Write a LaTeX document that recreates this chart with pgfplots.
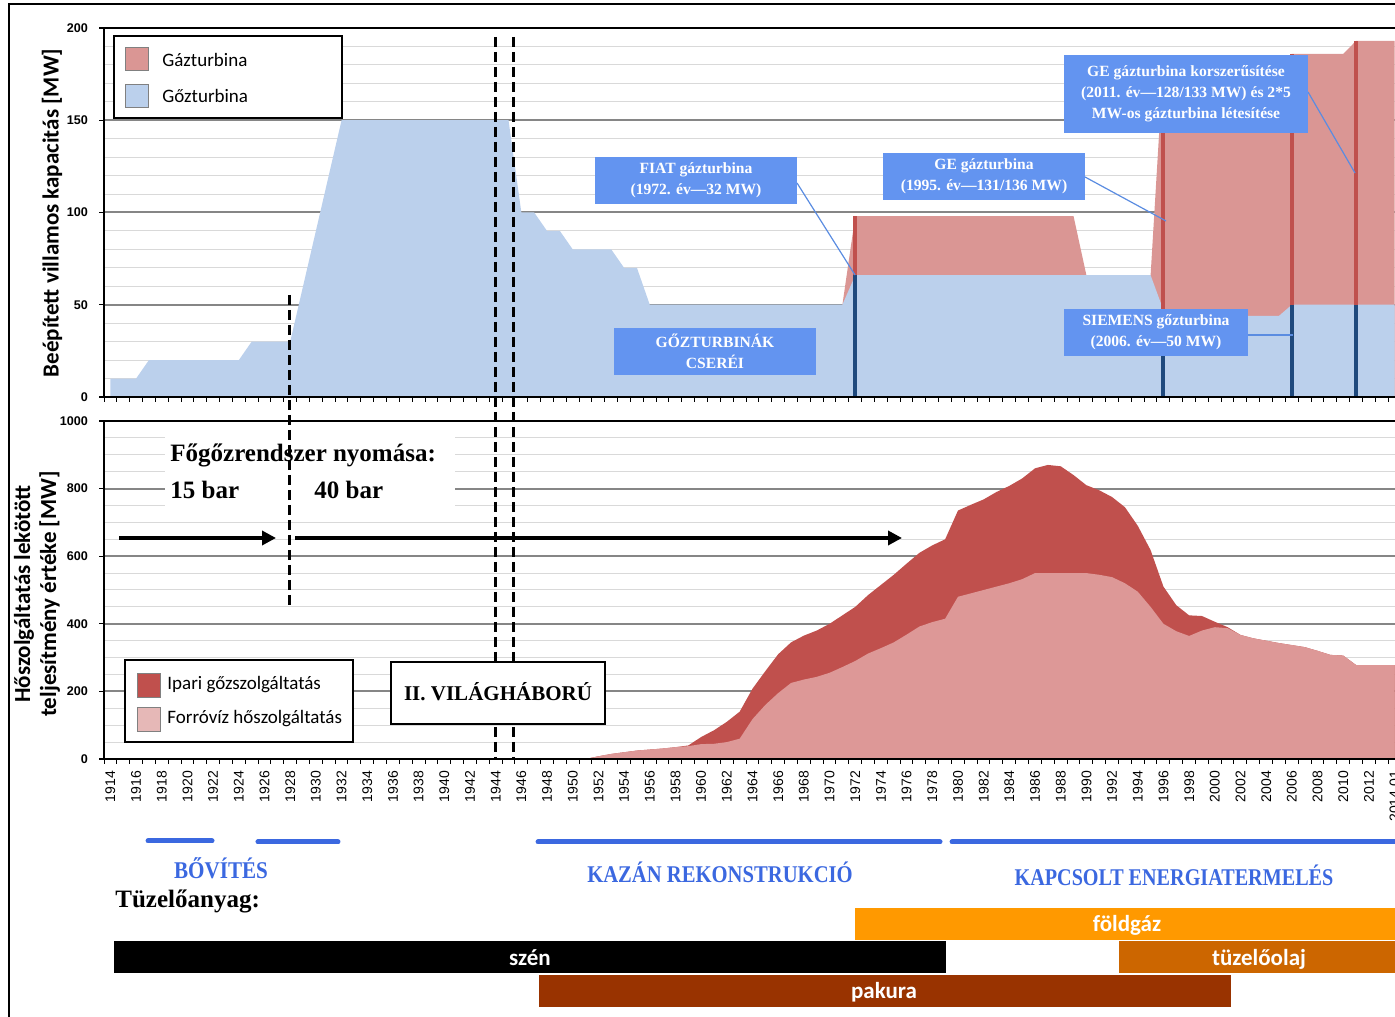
\documentclass[border=0pt]{standalone}
\usepackage{pgfplots}
\usepackage{pgfplotstable}
\pgfplotsset{compat=1.18}
\usepackage{fontspec}
\setmainfont{Liberation Serif}
\newfontfamily\carlito{Carlito}
\newfontfamily\arial{Liberation Sans}
\usetikzlibrary{arrows.meta}

\definecolor{gozblue}{RGB}{187,208,236}
\definecolor{gazred}{RGB}{218,150,148}
\definecolor{navyline}{RGB}{31,73,125}
\definecolor{redline}{RGB}{192,80,77}
\definecolor{ipari}{RGB}{192,80,77}
\definecolor{forro}{RGB}{221,152,151}
\definecolor{forroleg}{RGB}{230,184,183}
\definecolor{boxblue}{RGB}{99,148,240}
\definecolor{leader}{RGB}{90,140,225}
\definecolor{periodblue}{RGB}{59,104,224}
\definecolor{gridmajor}{RGB}{134,134,134}
\definecolor{gridminor}{RGB}{217,217,217}
\definecolor{foldgaz}{RGB}{255,153,0}
\definecolor{olaj}{RGB}{204,102,0}
\definecolor{pakura}{RGB}{153,51,0}

\pgfplotstableread{
year goz
1914 10
1916 10
1917 20
1924 20
1925 30
1928 30
1929 60
1930 90
1931 120
1932 150
1945 150
1946 100
1947 100
1948 90
1949 90
1950 80
1953 80
1954 70
1955 70
1956 50
1971 50
1972 66
1995 66
1996 47
1997 44
2005 44
2006 50
2014 50
}\gozdata

\pgfplotstableread{
year total
1971 50
1972 98
1989 98
1990 66
1995 66
1996 182
1997 180
2005 180
2006 186
2010 186
2011 193
2014 193
}\gazdata

\pgfplotstableread{
year F T
1951 0 0
1952 8 8
1953 15 15
1954 20 20
1955 25 25
1956 28 28
1957 31 31
1958 35 35
1959 38 40
1960 44 65
1961 45 85
1962 50 110
1963 60 140
1964 118 208
1965 160 260
1966 195 310
1967 225 345
1968 235 365
1969 243 380
1970 255 400
1971 272 425
1972 290 450
1973 312 485
1974 328 515
1975 345 545
1976 368 578
1977 392 610
1978 405 632
1979 415 650
1980 480 735
1981 490 752
1982 500 768
1983 510 790
1984 520 808
1985 532 830
1986 550 860
1987 550 870
1988 550 866
1989 550 840
1990 550 810
1991 545 795
1992 538 775
1993 520 745
1994 495 690
1995 450 618
1996 400 510
1997 378 455
1998 364 425
1999 380 423
2000 390 406
2001 387 390
2002 367 367
2003 357 357
2004 350 350
2005 343 343
2006 337 337
2007 331 331
2008 320 320
2009 308 308
2010 306 306
2011 278 278
2012 278 278
2013 278 278
2014 278 278
}\hodata

\pgfplotsset{
  commonax/.style={
    anchor=south west, scale only axis, width=648.5pt,
    xmin=1913.5, xmax=2014.5,
    xtick={1914,1916,...,2014},
    minor xtick={1913.5,1914.5,...,2014.5},
    tick pos=left,
    ymajorgrids, yminorgrids,
    major grid style={draw=gridmajor, line width=1pt},
    minor grid style={draw=gridminor, line width=0.5pt},
    tick align=outside,
    major tick length=2.5pt, minor tick length=2.5pt,
    minor y tick style={draw=none},
    major x tick style={draw=none},
    minor x tick style={black, line width=0.5pt},
    major y tick style={black, line width=0.6pt},
    axis line style={line width=1pt},
    /pgf/number format/assume math mode=true,
    /pgf/number format/1000 sep={},
    yticklabel style={font=\arial\bfseries\fontsize{6.3}{7}\selectfont, xshift=-2pt},
  }
}

\begin{document}
\begin{tikzpicture}
\path[use as bounding box] (0pt,0pt) rectangle (697.5pt,508pt);

% ---------- top axis ----------
\begin{axis}[commonax, at={(52pt,309.5pt)}, height=184.5pt,
  ymin=0, ymax=200, ytick={0,50,...,200}, minor ytick={10,20,...,190},
  xticklabels={}]
\addplot[fill=gazred, draw=none] table[x=year, y=total] {\gazdata} \closedcycle;
\addplot[fill=gozblue, draw=none] table[x=year, y=goz] {\gozdata} \closedcycle;
\addplot[navyline, line width=2pt] coordinates {(1972,0) (1972,66)};
\addplot[redline, line width=2pt] coordinates {(1972,66) (1972,98)};
\addplot[navyline, line width=2pt] coordinates {(1996,0) (1996,47)};
\addplot[redline, line width=2pt] coordinates {(1996,47) (1996,182)};
\addplot[navyline, line width=2pt] coordinates {(2006,0) (2006,50)};
\addplot[redline, line width=2pt] coordinates {(2006,50) (2006,186)};
\addplot[navyline, line width=2pt] coordinates {(2011,0) (2011,50)};
\addplot[redline, line width=2pt] coordinates {(2011,50) (2011,193)};
\draw[line width=1pt] (rel axis cs:0,0) -- (rel axis cs:1,0);
\draw[line width=1pt] (rel axis cs:0,0) -- (rel axis cs:0,1) -- (rel axis cs:1,1);
\end{axis}

% ---------- bottom axis ----------
\begin{axis}[commonax, at={(52pt,128.5pt)}, height=169pt,
  ymin=0, ymax=1000, ytick={0,200,...,1000}, minor ytick={50,100,...,950},
  xticklabel style={rotate=90, anchor=east, font=\arial\fontsize{7}{8}\selectfont}]
\addplot[fill=ipari, draw=none] table[x=year, y=T] {\hodata} \closedcycle;
\addplot[fill=forro, draw=none] table[x=year, y=F] {\hodata} \closedcycle;
\draw[line width=1pt] (rel axis cs:0,0) -- (rel axis cs:1,0);
\draw[line width=1pt] (rel axis cs:0,0) -- (rel axis cs:0,1) -- (rel axis cs:1,1);
\end{axis}

% ---------- fuel / period axis ----------
\begin{axis}[anchor=south west, at={(52pt,0pt)}, scale only axis, width=648.5pt, height=93pt,
  xmin=1913.5, xmax=2014.5, ymin=-1016, ymax=-830, hide axis, clip=false]
\addplot[periodblue, line width=2.5pt, line cap=round] coordinates {(1916.93,-841) (1921.91,-841)};
\addplot[periodblue, line width=2.5pt, line cap=round] coordinates {(1925.49,-842) (1931.72,-842)};
\addplot[periodblue, line width=2.5pt, line cap=round] coordinates {(1947.3,-842) (1978.6,-842)};
\addplot[periodblue, line width=2.5pt, line cap=round] coordinates {(1979.54,-842) (2014.5,-842)};
\addplot[fill=foldgaz, draw=none] coordinates {(1972.0,-908) (2014.5,-908) (2014.5,-940) (1972.0,-940)};
\addplot[fill=black, draw=none] coordinates {(1914.28,-941) (1979.08,-941) (1979.08,-973) (1914.28,-973)};
\addplot[fill=olaj, draw=none] coordinates {(1992.55,-941) (2014.5,-941) (2014.5,-973) (1992.55,-973)};
\addplot[fill=pakura, draw=none] coordinates {(1947.38,-975) (2001.27,-975) (2001.27,-1007) (1947.38,-1007)};
\end{axis}

% ---------- annotations (pixel coordinates, y downward) ----------
\begin{scope}[x=0.5pt, y=-0.5pt, shift={(0pt,508pt)}]
\draw[line width=0.7pt] (9,1030) -- (9,4) -- (1400,4);

% axis titles
\node[rotate=90, font=\carlito\bfseries\fontsize{11.5}{13}\selectfont] at (52,213) {Beépített villamos kapacitás [MW]};
\node[rotate=90, align=center, font=\carlito\bfseries\fontsize{11.5}{13}\selectfont] at (37,594) {Hőszolgáltatás lekötött\\teljesítmény értéke [MW]};

% top legend
\draw[fill=white, line width=1pt] (114,36) rectangle (342,118);
\draw[fill=gazred, draw=gray] (125,47) rectangle (148,70);
\draw[fill=gozblue, draw=gray] (125,84) rectangle (148,107);
\node[anchor=west, inner sep=0, font=\carlito\fontsize{9.5}{11}\selectfont] at (162,60) {Gázturbina};
\node[anchor=west, inner sep=0, font=\carlito\fontsize{9.5}{11}\selectfont] at (162,96) {Gőzturbina};

% annotation boxes
\tikzset{ann/.style={text=white, align=center, font=\bfseries\fontsize{7.8}{10.5}\selectfont}}
\draw[leader, line width=0.6pt] (797,183) -- (855,275);
\draw[leader, line width=0.6pt] (1085,177) -- (1166,221);
\draw[leader, line width=0.6pt] (1308,92) -- (1355,173);
\draw[leader, line width=0.6pt] (1248,335) -- (1293,335);
\fill[boxblue] (595,157) rectangle (797,204);
\node[ann] at (696,180.5) {FIAT gázturbina\\(1972. év---32 MW)};
\fill[boxblue] (883,153) rectangle (1085,200);
\node[ann] at (984,176.5) {GE gázturbina\\(1995. év---131/136 MW)};
\fill[boxblue] (1064,55) rectangle (1308,133);
\node[ann] at (1186,94) {GE gázturbina korszerűsítése\\(2011. év---128/133 MW) és 2*5\\MW-os gázturbina létesítése};
\fill[boxblue] (1064,309) rectangle (1248,356);
\node[ann] at (1156,332.5) {SIEMENS gőzturbina\\(2006. év---50 MW)};
\fill[boxblue] (614,328) rectangle (816,375);
\node[ann] at (715,351.5) {GŐZTURBINÁK\\CSERÉI};

% pressure text
\fill[white] (165,435) rectangle (455,507);
\node[anchor=base west, inner sep=0, font=\bfseries\fontsize{12.5}{14}\selectfont] at (170,462) {Főgőzrendszer nyomása:};
\node[anchor=base west, inner sep=0, font=\bfseries\fontsize{12.5}{14}\selectfont] at (170,499) {15 bar};
\node[anchor=base west, inner sep=0, font=\bfseries\fontsize{12.5}{14}\selectfont] at (314,499) {40 bar};
\draw[line width=2pt, -{Triangle[length=7pt, width=7pt]}] (119,538) -- (276,538);
\draw[line width=2pt, -{Triangle[length=7pt, width=7pt]}] (295,538) -- (902,538);

% dashed lines
\draw[line width=1.5pt, dash pattern=on 5pt off 2.5pt] (289,295) -- (289,607);
\draw[line width=1.5pt, dash pattern=on 5pt off 2.5pt] (495,37) -- (495,759);
\draw[line width=1.5pt, dash pattern=on 5pt off 2.5pt] (513,37) -- (513,759);

% bottom legend
\draw[fill=white, line width=1pt] (125,660) rectangle (353,742);
\draw[fill=ipari, draw=gray] (137,673) rectangle (160,697);
\draw[fill=forroleg, draw=gray] (137,707) rectangle (160,731);
\node[anchor=west, inner sep=0, font=\carlito\fontsize{9.5}{11}\selectfont] at (167,685) {Ipari gőzszolgáltatás};
\node[anchor=west, inner sep=0, font=\carlito\fontsize{9.5}{11}\selectfont] at (167,719) {Forróvíz hőszolgáltatás};

% WWII box
\draw[fill=white, line width=1pt] (391,662) rectangle (605,724);
\node[font=\bfseries\fontsize{10.5}{12}\selectfont] at (498,692) {II. VILÁGHÁBORÚ};

% period texts
\tikzset{per/.style={text=periodblue, font=\bfseries\fontsize{12}{14}\selectfont}}
\node[per] at (221,868) {\scalebox{0.88}[1]{BŐVÍTÉS}};
\node[per] at (720,872) {\scalebox{0.86}[1]{KAZÁN REKONSTRUKCIÓ}};
\node[per] at (1174,875) {\scalebox{0.84}[1]{KAPCSOLT ENERGIATERMELÉS}};
\node[anchor=west, inner sep=0, font=\bfseries\fontsize{12.5}{14}\selectfont] at (115,901) {Tüzelőanyag:};

% fuel labels
\tikzset{fuel/.style={text=white, font=\carlito\bfseries\fontsize{11.5}{13}\selectfont}}
\node[fuel] at (1127,925) {földgáz};
\node[fuel] at (530,958) {szén};
\node[fuel] at (1259,959) {tüzelőolaj};
\node[fuel] at (884,992) {pakura};
\end{scope}
\end{tikzpicture}
\end{document}
